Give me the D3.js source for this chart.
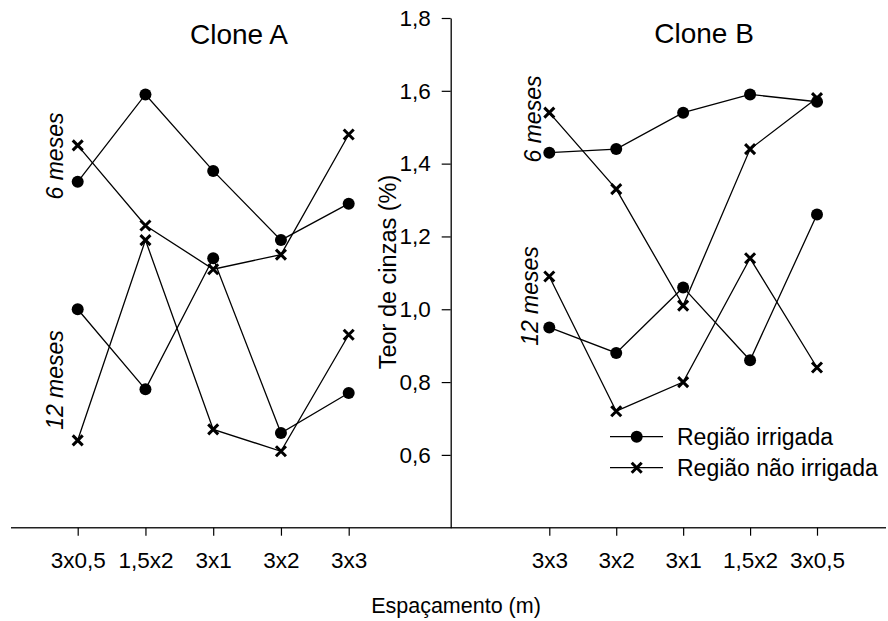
<!DOCTYPE html>
<html><head><meta charset="utf-8">
<script src="https://cdn.jsdelivr.net/npm/d3@7"></script>
<style>body{margin:0;background:#fff}svg{display:block}text{font-family:"Liberation Sans",Arial,sans-serif;fill:#000}</style>
</head><body>
<svg id="c" width="888" height="621"></svg>
<script>
// ---- data ----
const catsA = ["3x0,5","1,5x2","3x1","3x2","3x3"];
const catsB = ["3x3","3x2","3x1","1,5x2","3x0,5"];
const A6irr  = [1.35,1.59,1.38,1.19,1.29];
const A6non  = [1.45,1.23,1.11,1.15,1.48];
const A12irr = [1.00,0.78,1.14,0.66,0.77];
const A12non = [0.64,1.19,0.67,0.61,0.93];
const B6irr  = [1.43,1.44,1.54,1.59,1.57];
const B6non  = [1.54,1.33,1.01,1.44,1.58];
const B12irr = [0.95,0.88,1.06,0.86,1.26];
const B12non = [1.09,0.72,0.80,1.14,0.84];
const yTicks = [0.6,0.8,1.0,1.2,1.4,1.6,1.8];
const titles = ["Clone A","Clone B"];
const legendLabels = ["Região irrigada","Região não irrigada"];
const xTitle = "Espaçamento (m)";
const yTitle = "Teor de cinzas (%)";
const ageLabels = ["6 meses","12 meses"];

const svg = d3.select("#c");
const y = d3.scaleLinear().domain([0.4,1.8]).range([527.7,18]);
const xA = d3.scalePoint().domain(catsA).range([77.7,348.7]);
const xB = d3.scalePoint().domain(catsB).range([549.3,817]);
const fmt = d => d3.format(".1f")(d).replace(".", ",");

// x axis baseline
svg.append("line").attr("x1",11).attr("x2",886).attr("y1",y(0.4)).attr("y2",y(0.4))
  .attr("stroke","#222").attr("stroke-width",1.5);

// x axes ticks
function xAxis(sc){
  const g = svg.append("g").attr("transform",`translate(0,${y(0.4)})`)
    .call(d3.axisBottom(sc).tickSize(8).tickPadding(16));
  g.select(".domain").remove();
  g.selectAll(".tick line").attr("stroke","#000").attr("stroke-width",1.2);
  g.selectAll(".tick text").attr("font-size",22.5).style("font-family","Liberation Sans, Arial, sans-serif").attr("fill","#000");
}
xAxis(xA); xAxis(xB);

// y axis
const ya = svg.append("g").attr("transform","translate(450.7,0)")
  .call(d3.axisLeft(y).tickValues(yTicks).tickFormat(fmt).tickSize(9).tickPadding(11).tickSizeOuter(0));
ya.select(".domain").attr("stroke","#000").attr("stroke-width",1.3);
ya.selectAll(".tick line").attr("stroke","#000").attr("stroke-width",1.2);
ya.selectAll(".tick text").attr("font-size",22.5).style("font-family","Liberation Sans, Arial, sans-serif").attr("fill","#000");

// titles
svg.append("text").attr("x",239).attr("y",44).attr("text-anchor","middle").attr("font-size",28).text(titles[0]);
svg.append("text").attr("x",704).attr("y",43).attr("text-anchor","middle").attr("font-size",28).text(titles[1]);
svg.append("text").attr("x",456).attr("y",613).attr("text-anchor","middle").attr("font-size",21.5).text(xTitle);
svg.append("text").attr("transform","translate(396,272) rotate(-90)").attr("text-anchor","middle").attr("font-size",23.5).text(yTitle);

// age labels (rotated, italic)
const ages = [[63,156,0],[63,380,1],[541,119,0],[538,296,1]];
ages.forEach(([ax,ay,i])=>{
  svg.append("text").attr("transform",`translate(${ax},${ay}) rotate(-90)`).attr("text-anchor","middle")
    .attr("font-size",23).attr("font-style","italic").text(ageLabels[i]);
});

const line = d3.line();
function series(sc, cats, vals, kind){
  const pts = cats.map((c,i)=>[sc(c), y(vals[i])]);
  svg.append("path").attr("d",line(pts)).attr("fill","none").attr("stroke","#000").attr("stroke-width",1.3);
  return pts.map(p=>({p,kind}));
}
let marks = [];
marks = marks.concat(series(xA,catsA,A6irr,"dot"), series(xA,catsA,A6non,"x"),
  series(xA,catsA,A12irr,"dot"), series(xA,catsA,A12non,"x"),
  series(xB,catsB,B6irr,"dot"), series(xB,catsB,B6non,"x"),
  series(xB,catsB,B12irr,"dot"), series(xB,catsB,B12non,"x"));

function drawMark(x0,y0,kind){
  if(kind==="dot"){
    svg.append("circle").attr("cx",x0).attr("cy",y0).attr("r",6).attr("fill","#000");
  } else {
    const s=5;
    svg.append("path").attr("d",`M${x0-s},${y0-s}L${x0+s},${y0+s}M${x0-s},${y0+s}L${x0+s},${y0-s}`)
      .attr("stroke","#000").attr("stroke-width",3).attr("fill","none");
  }
}
marks.filter(m=>m.kind==="dot").forEach(m=>drawMark(m.p[0],m.p[1],"dot"));
marks.filter(m=>m.kind==="x").forEach(m=>drawMark(m.p[0],m.p[1],"x"));

// legend
const lg = [[436.7,"dot"],[467.7,"x"]];
lg.forEach(([ly,k],i)=>{
  svg.append("line").attr("x1",610).attr("x2",663).attr("y1",ly).attr("y2",ly).attr("stroke","#000").attr("stroke-width",1.3);
  drawMark(636.7,ly,k);
  svg.append("text").attr("x",677).attr("y",ly+8).attr("font-size",23).text(legendLabels[i]);
});
</script>
</body></html>
